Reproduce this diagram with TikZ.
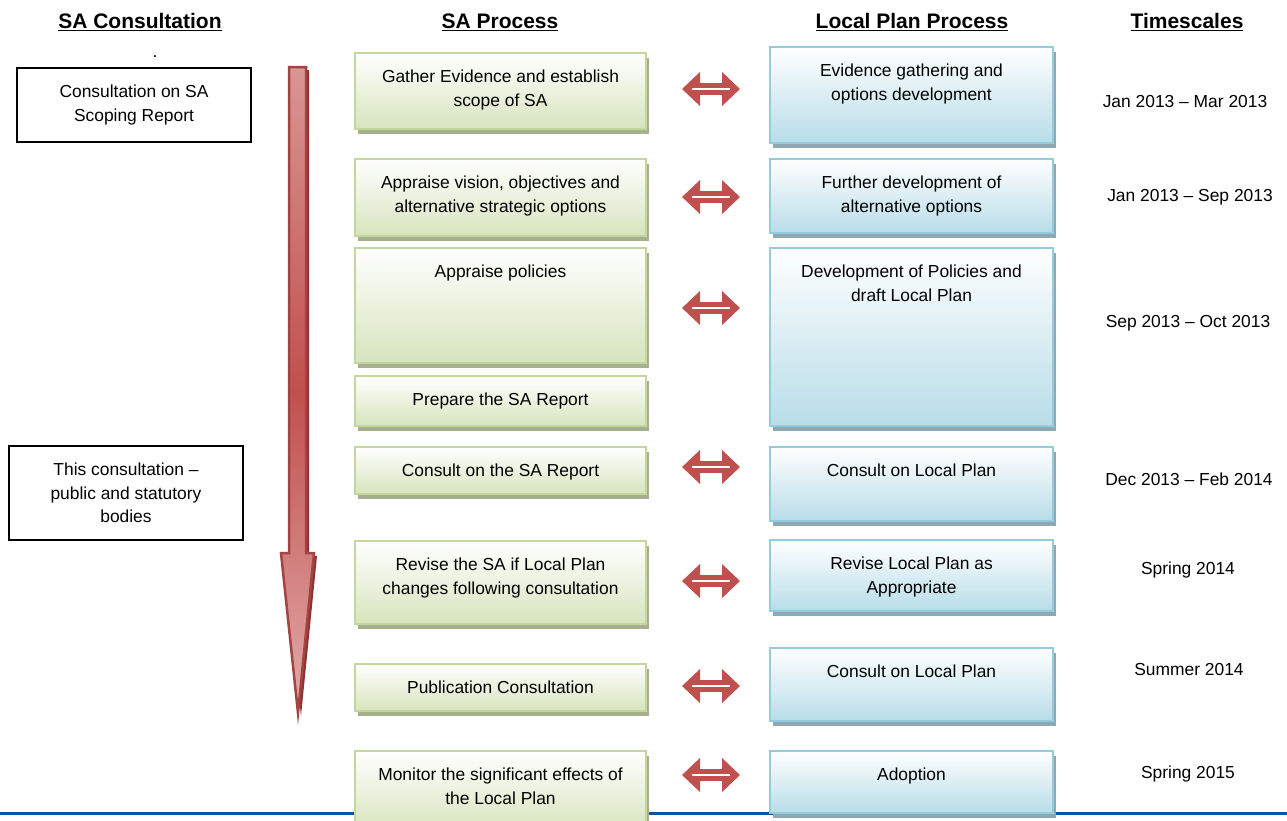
\documentclass[tikz,border=0pt]{standalone}
\usepackage{fontspec}
\setmainfont{Liberation Sans}
\usetikzlibrary{positioning,arrows.meta,shadows}

\definecolor{gline}{HTML}{C3D69B}
\definecolor{gfill}{HTML}{D7E4BD}
\definecolor{gshad}{HTML}{A6B08F}
\definecolor{bline}{HTML}{93CDDD}
\definecolor{bfill}{HTML}{B7DDE8}
\definecolor{bshad}{HTML}{8FA8B2}
\definecolor{sared}{HTML}{C0504D}
\definecolor{salight}{HTML}{D99694}
\definecolor{sadark}{HTML}{8C3331}
\definecolor{ruleblue}{HTML}{0B539F}

\begin{document}
\begin{tikzpicture}[
    x=1pt, y=-1pt,
    font=\fontsize{17.4}{24}\selectfont,
    hdr/.style={font=\fontsize{21}{25}\selectfont\bfseries, anchor=base, inner sep=0pt},
    txt/.style={align=center, anchor=north, inner sep=0pt},
    when/.style={anchor=base, inner sep=0pt},
    gbox/.style={draw=gline, line width=2pt, top color=white, bottom color=gfill,
      anchor=north west, minimum width=291pt, inner sep=0pt,
      drop shadow={fill=gshad, opacity=1, shadow xshift=3pt, shadow yshift=-5pt}},
    bbox/.style={draw=bline, line width=2pt, top color=white, bottom color=bfill,
      anchor=north west, minimum width=283pt, inner sep=0pt,
      drop shadow={fill=bshad, opacity=1, shadow xshift=3pt, shadow yshift=-5pt}},
    cbox/.style={draw=black, line width=1.5pt, align=center, minimum width=234pt,
      font=\fontsize{17.4}{23.5}\selectfont},
    dbl/.style={sared, line width=12pt,
      {Triangle[length=18pt,width=33pt]}-{Triangle[length=18pt,width=33pt]}},
  ]
    \useasboundingbox (0,0) rectangle (1287,820);

    % bottom rule, behind the boxes
    \draw[ruleblue, line width=3pt] (0,813) -- (1287,813);

    % column headings
    \node[hdr] (hcons) at (140,28.5)  {\underline{SA Consultation}};
    \node[hdr] (hsa)   at (500,28.5)  {\underline{SA Process}};
    \node[hdr] (hlp)   at (912,28.5)  {\underline{Local Plan Process}};
    \node[hdr] (htime) at (1187,28.5) {\underline{Timescales}};
    \node[when] (dot) at (155,57) {.};

    % consultation boxes
    \node[cbox, minimum height=74pt] (scoping) at (134,105) {Consultation on SA\\Scoping Report};
    \node[cbox, minimum height=94pt] (thiscons) at (126,493) {This consultation –\\public and statutory\\bodies};

    % time arrow
    \fill[sadark] (292,70) -- (309,70) -- (309,556) -- (317,556) -- (301,716) -- (284,556) -- (292,556) -- cycle;
    \draw[sared!85!black, line width=2.5pt, top color=salight, bottom color=salight!80!white, middle color=sared]
      (289,67) -- (306,67) -- (306,553) -- (314,553) -- (298,713) -- (281,553) -- (289,553) -- cycle;

    % SA process
    \foreach \n/\y/\h/\lab in {
        g1/52/76/{Gather Evidence and establish\\scope of SA},
        g2/158/77/{Appraise vision, objectives and\\alternative strategic options},
        g3/247/115/{Appraise policies},
        g4/375/50/{Prepare the SA Report},
        g5/446/47/{Consult on the SA Report},
        g6/540/83/{Revise the SA if Local Plan\\changes following consultation},
        g7/663/47/{Publication Consultation},
        g8/750/80/{Monitor the significant effects of\\the Local Plan}} {
      \node[gbox, minimum height=\h pt] (\n) at (354,\y) {};
      \node[txt] (\n-t) at ([yshift=-17.5pt]\n.north) {\lab};
    }

    % local plan process
    \foreach \n/\y/\h/\lab in {
        b1/46/96/{Evidence gathering and\\options development},
        b2/158/74/{Further development of\\alternative options},
        b3/247/178/{Development of Policies and\\draft Local Plan},
        b4/446/74/{Consult on Local Plan},
        b5/539/71/{Revise Local Plan as\\Appropriate},
        b6/647/73/{Consult on Local Plan},
        b7/750/62/{Adoption}} {
      \node[bbox, minimum height=\h pt] (\n) at (769,\y) {};
      \node[txt] (\n-t) at ([yshift=-17.5pt]\n.north) {\lab};
    }

    \foreach \n/\m/\dy in {g1/b1/37, g2/b2/39, g3/b3/61, g5/b4/21, g6/b5/41, g7/b6/23, g8/b7/25} {
      \draw[dbl] ([xshift=35pt,yshift=-\dy pt]\n.north east) -- ([xshift=-29pt,yshift=-\dy pt]\n.north east -| \m.west);
      \draw[white, line width=2.5pt] ([xshift=45pt,yshift=-\dy pt]\n.north east) -- ([xshift=-39pt,yshift=-\dy pt]\n.north east -| \m.west);
    }

    % timescales
    \foreach \n/\x/\y/\lab in {
        t1/1185/107/{Jan 2013 – Mar 2013},
        t2/1190/201/{Jan 2013 – Sep 2013},
        t3/1188/327/{Sep 2013 – Oct 2013},
        t4/1189/485/{Dec 2013 – Feb 2014},
        t5/1188/574/{Spring 2014},
        t6/1189/675/{Summer 2014},
        t7/1188/778/{Spring 2015}}
      \node[when] (\n) at (\x,\y) {\lab};
  \end{tikzpicture}
\end{document}
